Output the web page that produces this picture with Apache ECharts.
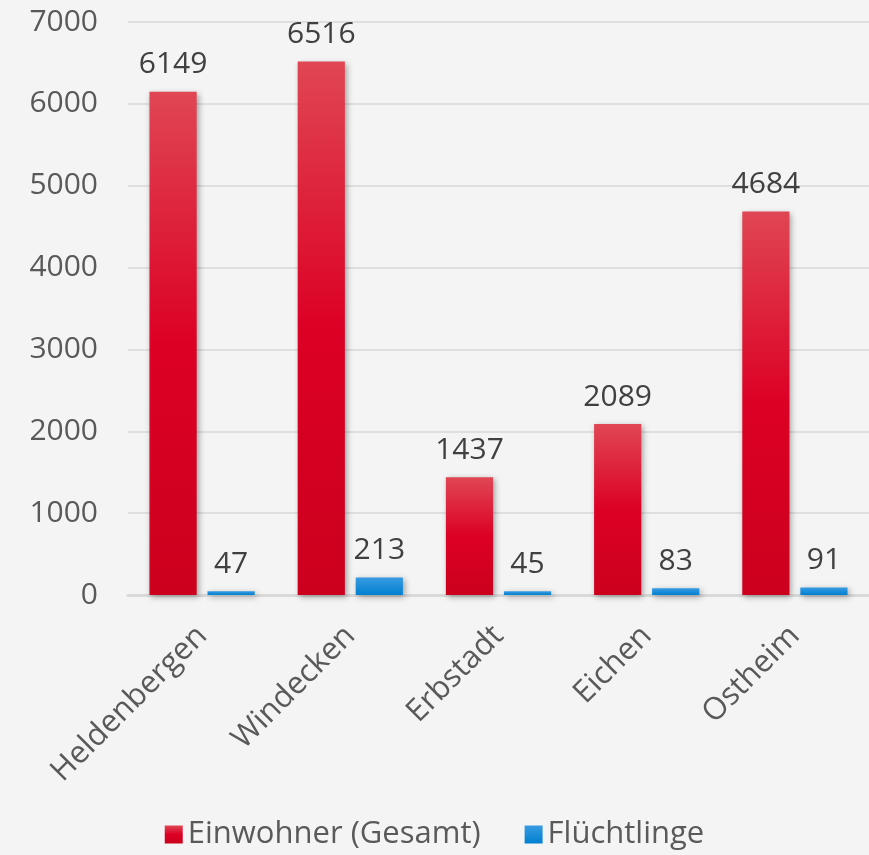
<!DOCTYPE html>
<html><head><meta charset="utf-8">
<script src="https://cdn.jsdelivr.net/npm/echarts@6/dist/echarts.min.js"></script>
<style>html,body{margin:0;padding:0;background:#f4f4f4;}#c{width:869px;height:855px;}</style>
</head><body><div id="c"></div>
<script>
var categories = ['Heldenbergen', 'Windecken', 'Erbstadt', 'Eichen', 'Ostheim'];
var einwohner = [6149, 6516, 1437, 2089, 4684];
var fluechtlinge = [47, 213, 45, 83, 91];
var seriesNames = ['Einwohner (Gesamt)', 'Flüchtlinge'];

var FONT = '"Open Sans", Lato, sans-serif';
var redGrad = new echarts.graphic.LinearGradient(0, 0, 0, 1, [
  {offset: 0, color: '#e04654'}, {offset: 0.5, color: '#dc0025'}, {offset: 1, color: '#cc001d'}]);
var blueGrad = new echarts.graphic.LinearGradient(0, 0, 0, 1, [
  {offset: 0, color: '#389be2'}, {offset: 1, color: '#0080d0'}]);
var shadow = {shadowColor: 'rgba(0,0,0,0.35)', shadowBlur: 6, shadowOffsetX: 2, shadowOffsetY: 2};

var chart = echarts.init(document.getElementById('c'));
chart.setOption({
  backgroundColor: '#f4f4f4',
  textStyle: {fontFamily: FONT},
  grid: {left: 128, right: 0, top: 22, bottom: 260, containLabel: false},
  legend: {
    bottom: 0, left: 'center', itemWidth: 18, itemHeight: 18, itemGap: 44,
    icon: 'rect',
    textStyle: {fontSize: 31, color: '#5a5a5a', fontFamily: FONT},
    data: [{name: seriesNames[0], itemStyle: {color: redGrad}}, {name: seriesNames[1], itemStyle: {color: blueGrad}}]
  },
  xAxis: {
    type: 'category', data: categories,
    axisLine: {show: true, lineStyle: {color: '#d9d9d9', width: 3}},
    axisTick: {show: false},
    axisLabel: {rotate: 45, fontSize: 31, color: '#595959', margin: 36, fontFamily: FONT, interval: 0}
  },
  yAxis: {
    type: 'value', min: 0, max: 7000, interval: 1000,
    axisLine: {show: false}, axisTick: {show: false},
    splitLine: {lineStyle: {color: '#d9d9d9', width: 1.5}},
    axisLabel: {fontSize: 30, color: '#595959', margin: 30, fontFamily: FONT, formatter: function (v) { return String(v); }}
  },
  series: [
    {name: seriesNames[0], type: 'bar', data: einwohner, barGap: '23%', barCategoryGap: '29%',
     itemStyle: Object.assign({color: redGrad}, shadow),
     label: {show: true, position: 'top', distance: 12, fontSize: 30, color: '#404040', fontFamily: FONT}},
    {name: seriesNames[1], type: 'bar', data: fluechtlinge,
     itemStyle: Object.assign({color: blueGrad}, shadow),
     label: {show: true, position: 'top', distance: 12, fontSize: 30, color: '#404040', fontFamily: FONT}}
  ]
});
</script></body></html>
